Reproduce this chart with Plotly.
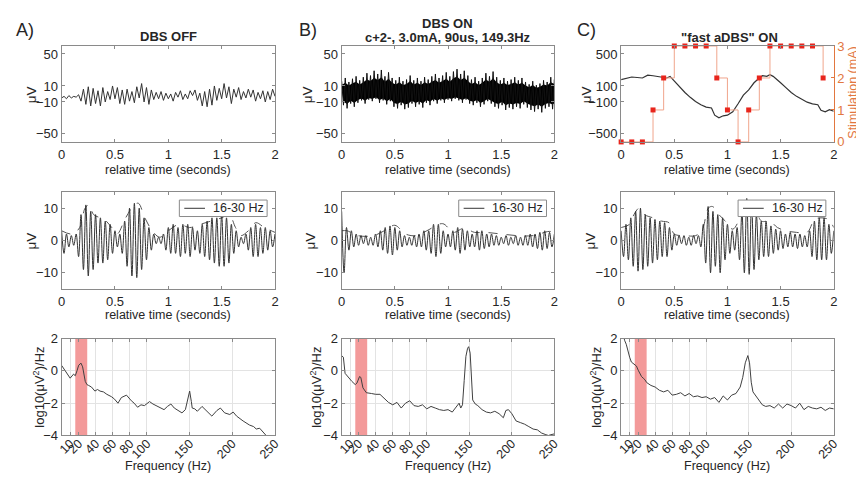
import numpy as np
import plotly.graph_objects as go

# ---------------- data ----------------
# Top row: raw signals (microvolts)
rawA = [-5, -3, -6, -2, -5, -3, -4, -1,
        -9, 6, -13, 9, -15, 7, -12, 4, -15, 8, -10, 3, -7,
        10, -6, 8, -12, 5, -13, 6, -9, 3, -11, 9, -5, 13,
        -10, 8, -13, 5, -7, 2, -6,
        3, -8, 1, -6, 0, -9, 2, -4, 4, -7, 0, -6, 4, -2, 5,
        -8, 1, -15, 3, -16, 6, -14, 10,
        -8, 7, -6, 13, -5, 9, -12, 6, -4, 8, -7, 3, -5, 6,
        -4, 5, -9, 2, -6, 4, -10, 3, -7, 6, -3]

rawB_upper = [16, 20, 15, 19, 22, 17, 21, 26, 23, 29, 25, 30, 22, 27, 20, 17, 21, 16, 18, 23,
              17, 20, 16, 21, 18, 22, 25, 20, 23, 27, 22, 28, 31, 25, 29, 23, 18, 21, 16, 20,
              26, 22, 28, 21, 17, 20, 16, 18, 21, 17, 20, 15, 12, 16, 11, 13, 17, 15, 21, 18]
rawB_lower = [-14, -18, -12, -16, -11, -8, -12, -7, -9, -6, -11, -8, -13, -9, -16, -18, -14, -19, -17, -12,
              -16, -13, -17, -11, -14, -9, -12, -8, -11, -7, -9, -6, -8, -11, -7, -12, -14, -11, -16, -13,
              -9, -12, -16, -18, -14, -20, -17, -19, -16, -18, -13, -17, -20, -22, -19, -23, -18, -16, -19, -14]

rawC_t = [0, 0.1, 0.2, 0.25, 0.3, 0.35, 0.4, 0.43, 0.46, 0.5, 0.55, 0.6, 0.65, 0.7, 0.75, 0.8, 0.85,
          0.88, 0.92, 0.96, 1.0, 1.05, 1.1, 1.15, 1.2, 1.25, 1.3, 1.33, 1.37, 1.4, 1.43, 1.47, 1.5,
          1.55, 1.6, 1.65, 1.7, 1.75, 1.8, 1.85, 1.88, 1.92, 1.96, 2.0]
rawC = [180, 212, 200, 236, 228, 220, 212, 200, 220, 160, 91, 18, -42, -95, -135, -164, -176,
        -265, -297, -273, -265, -224, -123, -14, 50, 140, 200, 228, 220, 240, 220, 180, 140,
        79, 18, -30, -71, -103, -123, -135, -204, -224, -196, -216]

stim_t = [0, 0.1, 0.2, 0.3, 0.4, 0.5, 0.6, 0.7, 0.8, 0.9, 1.0, 1.1, 1.2, 1.3, 1.4, 1.5, 1.6, 1.7, 1.8, 1.9]
stim_mA = [0, 0, 0, 1, 2, 3, 3, 3, 3, 2, 1, 0, 1, 2, 3, 3, 3, 3, 3, 2]

# Middle row: 16-30 Hz filtered signals (successive extrema, microvolts)
filtA = [3, -4, 2, -2, 1.5, -1.5, 2,
         -5, 8, -9, 11,
         -11, 9, -9, 8, -7, 7, -7, 6, -6, 5,
         -4, 3, -2, 2,
         -4, 6, -8, 10, -11, 11.5, -11.5, 10, -9, 7, -6, 4,
         -3, 2, -1, 1, -1, 2,
         -3, 4, -4, 5, -4, 4, -5, 5, -4, 5, -5, 4, -3, 3,
         -4, 5, -5, 6, -6, 7, -7, 7, -8, 8, -8, 7, -7, 5, -4, 3,
         -2, 1, -1, 2, -3,
         4, -5, 5, -5, 4, -4, 4, -3, 3, -2, 2]
filtB = [9, -10, 4, -3, 3, -2, 2,
         -1.5, 1.5, -1, 1.5, -1.5, 1, -1.5, 2,
         -2, 3, -3, 4, -4, 4.5, -4.5, 4, -3, 3,
         -2, 1.5, -1.5, 1, -1.5, 1.5, -2, 2, -2, 3,
         -3, 3, -4, 5, -5, 5, -4, 3, -2, 2,
         -2, 3, -3, 4, -4, 3.5, -3, 3,
         -2, 2, -2, 3, -3, 3, -2.5, 2, -2, 2,
         -1.5, 1.5, -1.5, 1, -1, 1.5, -1.5, 1, -1, 1.5, -1.5, 1, -1.5, 1.5, -1.5, 2,
         -2, 2, -2.5, 2.5, -3, 3, -2.5, 2.5, -2, 2]
filtC = [3, -5, 5, -6, 7, -8, 9,
         -9.5, 10, -9, 8, -8, 7, -7, 6.5,
         -6, 6, -5, 5.5, -5, 4, -3, 2,
         -1.5, 1.5, -1, 1.5, -1.5, 1, -1.5, 1.5, -1, 1.5, -2,
         5, -7, 10.5, -10, 9, -8, 8, -10, 7, -6, 5,
         -4, 3, -3, 4, -6, 9,
         -10, 13, -10.5, 12, -9, 8,
         -6, 6, -5, 6, -5, 4.5, -4, 3.5,
         -3, 3, -2.5, 2, -2, 2.5, -2, 2, -2.5, 2, -2, 1.5, -2, 3,
         -5, 6, -6, 7, -6, 7, -6, 5, -4, 3]

envA_t = [0, 0.1, 0.17, 0.22, 0.26, 0.3, 0.4, 0.47, 0.52, 0.6, 0.68, 0.72, 0.78, 0.85, 0.92, 1.0,
          1.1, 1.2, 1.3, 1.4, 1.5, 1.57, 1.63, 1.68, 1.75, 1.82, 1.9, 2.0]
envA = [3, 2, 4, 10, 11, 8, 6.5, 4, 2, 7, 11, 11.5, 7, 3, 1, 3, 5, 4, 5, 6, 7, 8, 4, 1.5, 3, 5.5, 4, 2.5]
envB_t = [0, 0.05, 0.15, 0.3, 0.4, 0.5, 0.6, 0.7, 0.8, 0.95, 1.05, 1.15, 1.25, 1.35, 1.5, 1.65, 1.8, 1.95, 2.0]
envB = [3, 3, 1.5, 1.5, 3, 4.7, 2, 1.5, 3, 5.2, 2.5, 3.8, 2.5, 2.5, 2, 1.5, 1.5, 2.8, 2.5]
envC_t = [0, 0.08, 0.12, 0.17, 0.22, 0.3, 0.38, 0.45, 0.5, 0.6, 0.7, 0.76, 0.82, 0.86, 0.92, 0.98,
          1.05, 1.12, 1.2, 1.25, 1.32, 1.4, 1.47, 1.55, 1.65, 1.75, 1.82, 1.88, 1.95, 2.0]
envC = [4, 5, 8, 10, 8, 7, 6, 5.5, 2, 1.5, 1.5, 3, 10, 10.5, 8, 6, 3.5, 7, 12, 11, 6, 6, 4, 3, 2.5, 2.5, 6.5, 7, 6.5, 4]

# Bottom row: PSD, log10(uV^2)/Hz
psdA_f = [0, 3, 6.5, 10, 14, 16, 18, 20, 22.7, 24.6, 27.7, 29.7, 31.6, 35, 39, 42, 45, 49, 53, 58.5,
          62, 66, 70, 76, 81.7, 85, 89, 93, 97, 103, 107, 112, 116, 120, 124, 128, 132, 135.6, 141, 145,
          147, 150, 152, 153, 156, 159, 164.5, 170, 176, 182, 186, 191, 197, 201, 205, 212.6, 220, 225,
          228, 232, 235.7, 239.6]
psdA = [0.34, 0.1, -0.15, -0.45, -0.2, -0.3, 0.0, 0.35, 0.48, 0.25, -0.65, -0.85, -0.9, -1.0, -1.25,
        -1.15, -1.25, -1.3, -1.45, -1.6, -1.75, -2.0, -1.65, -1.5, -1.85, -2.0, -2.25, -2.1, -2.15, -1.9,
        -2.05, -2.2, -2.3, -2.4, -2.2, -2.05, -2.3, -2.4, -2.6, -2.4, -1.9, -1.25, -1.9, -2.3, -2.35,
        -2.5, -2.2, -2.5, -2.8, -2.45, -2.3, -2.6, -2.7, -2.55, -2.8, -3.1, -3.35, -3.45, -3.6, -3.55,
        -3.8, -4.0]
psdB_f = [0, 2, 4, 7, 12, 16, 18, 21, 22.5, 25, 29, 35, 40, 45, 50, 55, 60, 65, 70, 75, 80, 85, 90, 95,
          100, 105, 110, 115, 120, 125, 130, 135, 138, 140, 142, 144, 146, 148, 149.3, 151, 152.5, 154,
          157, 160, 165, 170, 175, 180, 185, 190, 193, 196, 200, 205, 210, 215, 220, 225, 230, 235, 240,
          243, 246, 250]
psdB = [0.94, 0.85, -0.15, -0.35, -0.65, -0.85, -0.75, -0.35, -0.4, -1.05, -1.35, -1.4, -1.45, -1.45,
        -1.7, -1.95, -2.1, -1.95, -2.3, -2.0, -1.85, -2.15, -2.2, -2.1, -2.35, -2.2, -2.3, -2.4, -2.45,
        -2.4, -2.55, -2.2, -2.0, -2.3, -2.1, -0.6, 0.9, 1.4, 1.5, 1.1, -0.2, -1.8, -2.05, -2.15, -2.4,
        -2.55, -2.6, -2.5, -2.65, -2.9, -2.45, -2.4, -2.65, -3.1, -3.2, -3.3, -3.45, -3.6, -3.65, -3.85,
        -3.95, -4.0, -3.95, -3.9]
psdC_f = [3, 4, 6, 8, 10, 12, 15, 18, 20, 22, 24, 26, 28, 30, 35, 40, 45, 50, 55, 60, 65, 70, 75, 80,
          85, 90, 95, 100, 105, 110, 115, 120, 125, 130, 135, 140, 143, 146, 148, 149, 151, 153, 155,
          158, 162, 166, 170, 175, 180, 185, 190, 195, 200, 205, 210, 215, 220, 225, 230, 235, 240, 245, 250]
psdC = [2.2, 1.9, 1.65, 1.15, 0.85, 0.55, 0.4, 0.3, 0.05, -0.15, -0.35, -0.45, -0.55, -0.72, -0.9,
        -1.0, -1.2, -1.3, -1.2, -1.5, -1.45, -1.35, -1.55, -1.4, -1.6, -1.55, -1.65, -1.6, -1.75, -1.65,
        -1.95, -1.55, -1.8, -1.5, -1.4, -1.0, -0.4, 0.5, 0.9, 0.95, 0.5, -0.7, -1.3, -1.5, -1.8, -2.1,
        -2.2, -2.15, -2.3, -2.05, -2.3, -2.05, -2.15, -2.3, -2.0, -2.4, -2.2, -2.3, -2.35, -2.25, -2.45,
        -2.3, -2.35]

beta_band = [16, 30]
freq_ticks = [10, 20, 40, 60, 80, 100, 150, 200, 250]
time_ticks = [0, 0.5, 1, 1.5, 2]

panel_titles = ["<b>DBS OFF</b>", "<b>DBS ON</b>", "<b>c+2-, 3.0mA, 90us, 149.3Hz</b>", '<b>"fast aDBS" ON</b>']
panel_letters = ["A)", "B)", "C)"]

# ---------------- layout helpers ----------------
W, H = 864, 482
cols = [(49.3, 265.7), (333.3, 549.0), (616.7, 832.3)]
rows = [(32, 131), (182.7, 282.7), (334, 434)]
FONT = "Liberation Sans, Arial, Helvetica, sans-serif"
TXT = "#262626"
BOX = "#8a8a8a"
ORANGE = "#e2773f"
TRACE = "#333333"
TICK = 13


def xdom(c):
    return [cols[c][0] / W, cols[c][1] / W]


def ydom(r):
    return [1 - rows[r][1] / H, 1 - rows[r][0] / H]


def ax(k):
    return "" if k == 0 else str(k + 1)


fig = go.Figure()

# ---- top row ----
tA = np.linspace(0, 2, len(rawA))
fig.add_trace(go.Scatter(x=tA, y=rawA, mode="lines", line=dict(color=TRACE, width=1),
                         xaxis="x", yaxis="y", showlegend=False))

tB = np.linspace(0, 2, len(rawB_upper))
dtB = tB[1] - tB[0]
zx, zy = [], []
for i in range(len(tB)):
    zx += [tB[i], tB[i] + dtB / 2]
    zy += [rawB_upper[i], rawB_lower[i]]
# solid core of the dense DBS-ON trace
fig.add_trace(go.Scatter(x=list(tB) + list(tB[::-1] + dtB / 2),
                         y=[u * 0.7 for u in rawB_upper] + [l * 0.7 for l in rawB_lower[::-1]],
                         fill="toself", fillcolor="black", mode="none",
                         xaxis="x2", yaxis="y2", showlegend=False))
fig.add_trace(go.Scatter(x=zx, y=zy, mode="lines", line=dict(color="#111111", width=1),
                         xaxis="x2", yaxis="y2", showlegend=False))

fig.add_trace(go.Scatter(x=rawC_t, y=rawC, mode="lines", line=dict(color=TRACE, width=1.2),
                         xaxis="x3", yaxis="y3", showlegend=False))
fig.add_trace(go.Scatter(x=stim_t, y=stim_mA, mode="lines+markers", line=dict(color="#f0a58c", width=1, shape="hv"),
                         marker=dict(symbol="square", size=5, color="#e8251c"),
                         xaxis="x3", yaxis="y10", showlegend=False, cliponaxis=False))

# ---- middle row ----
for c, (sig, et, ev) in enumerate([(filtA, envA_t, envA), (filtB, envB_t, envB), (filtC, envC_t, envC)]):
    k = 3 + c
    t = np.linspace(0, 2, len(sig))
    fig.add_trace(go.Scatter(x=et, y=ev, mode="lines", line=dict(color="#555555", width=1, dash="dash", shape="spline"),
                             xaxis="x" + ax(k), yaxis="y" + ax(k), showlegend=False))
    fig.add_trace(go.Scatter(x=t, y=sig, mode="lines", line=dict(color=TRACE, width=1, shape="spline", smoothing=1),
                             xaxis="x" + ax(k), yaxis="y" + ax(k), showlegend=False))

# ---- bottom row ----
for c, (f, p) in enumerate([(psdA_f, psdA), (psdB_f, psdB), (psdC_f, psdC)]):
    k = 6 + c
    fig.add_trace(go.Scatter(x=[beta_band[0], beta_band[1], beta_band[1], beta_band[0], beta_band[0]],
                             y=[-4, -4, 2, 2, -4], fill="toself", fillcolor="#f39a9a", mode="none",
                             xaxis="x" + ax(k), yaxis="y" + ax(k), showlegend=False))
    fig.add_trace(go.Scatter(x=f, y=p, mode="lines", line=dict(color="#404040", width=1),
                             xaxis="x" + ax(k), yaxis="y" + ax(k), showlegend=False))

layout = dict(width=W, height=H, margin=dict(l=0, r=0, t=0, b=0), paper_bgcolor="white",
              plot_bgcolor="white", font=dict(family=FONT, size=12, color=TXT), showlegend=False)

for k in range(9):
    r, c = divmod(k, 3)
    xa = dict(domain=xdom(c), anchor="y" + ax(k), showline=True, linecolor=BOX, linewidth=1,
              mirror="ticks", ticks="inside", ticklen=3, tickcolor=BOX, zeroline=False,
              tickfont=dict(size=TICK, color=TXT))
    ya = dict(domain=ydom(r), anchor="x" + ax(k), showline=True, linecolor=BOX, linewidth=1,
              mirror="ticks", ticks="inside", ticklen=3, tickcolor=BOX, zeroline=False,
              tickfont=dict(size=TICK, color=TXT))
    if r < 2:
        xa.update(range=[0, 2], tickvals=time_ticks, ticktext=["0", "0.5", "1", "1.5", "2"], showgrid=False)
    if r == 0:
        if c < 2:
            ya.update(range=[-60, 60], tickvals=[-50, -10, 10, 50], showgrid=False)
        else:
            ya.update(range=[-600, 600], tickvals=[-500, -100, 100, 500], showgrid=False, mirror=False)
    elif r == 1:
        ya.update(range=[-15, 15], tickvals=[-10, 0, 10], showgrid=False)
    else:
        xa.update(range=[0, 250], tickvals=freq_ticks, ticktext=[str(v) for v in freq_ticks],
                  tickangle=-45, showgrid=True, gridcolor="#e3e3e3", gridwidth=1,
                  ticklabelstandoff=-5, tickfont=dict(size=12.5, color=TXT))
        ya.update(range=[-4, 2], tickvals=[-4, -2, 0, 2], showgrid=True, gridcolor="#e3e3e3", gridwidth=1)
    layout["xaxis" + ax(k)] = xa
    layout["yaxis" + ax(k)] = ya

layout["yaxis10"] = dict(overlaying="y3", side="right", anchor="x3", range=[0, 3], tickvals=[0, 1, 2, 3],
                         showline=True, linecolor=ORANGE, linewidth=1, ticks="inside", ticklen=3,
                         tickcolor=ORANGE, tickfont=dict(size=TICK, color=ORANGE), showgrid=False, zeroline=False)

annotations = []


def ann(text, x, y, size=12, angle=0, color=TXT, xanchor="center"):
    annotations.append(dict(text=text, x=x / W, y=1 - y / H, xref="paper", yref="paper", showarrow=False,
                            font=dict(size=size, color=color, family=FONT), textangle=angle,
                            xanchor=xanchor, yanchor="middle"))


for c in range(3):
    cx = (cols[c][0] + cols[c][1]) / 2
    ann("relative time (seconds)", cx, 160, size=12.5)
    ann("relative time (seconds)", cx, 310, size=12.5)
    ann("Frequency (Hz)", cx, 465, size=12.5)

ann(panel_titles[0], 157.5, 22, size=13)
ann(panel_titles[1], 441, 9, size=13)
ann(panel_titles[2], 441, 23, size=13)
ann(panel_titles[3], 727, 23, size=13)

ann(panel_letters[0], 12, 15, size=18)
ann(panel_letters[1], 299, 15, size=18)
ann(panel_letters[2], 582, 15, size=18)

for x in (19, 299, 582):
    ann("μV", x, 82, size=13.5, angle=-90)
for x in (19, 302, 586):
    ann("μV", x, 233, size=13.5, angle=-90)
for x in (26, 307, 591):
    ann("log10(μV<sup>2</sup>)/Hz", x, 384, size=13, angle=-90)
ann("Stimulation (mA)", 851, 80, size=12.5, angle=-90, color=ORANGE)

shapes = []
for c in range(3):
    right = cols[c][1] - 8
    left = right - 89
    top, bot = 191, 208
    shapes.append(dict(type="rect", xref="paper", yref="paper", x0=left / W, x1=right / W,
                       y0=1 - bot / H, y1=1 - top / H, line=dict(color=BOX, width=1), fillcolor="white"))
    shapes.append(dict(type="line", xref="paper", yref="paper", x0=(left + 5) / W, x1=(left + 26) / W,
                       y0=1 - 199.5 / H, y1=1 - 199.5 / H, line=dict(color=TRACE, width=1)))
    annotations.append(dict(text="16-30 Hz", x=(left + 32) / W, y=1 - 199.5 / H, xref="paper", yref="paper",
                            showarrow=False, xanchor="left", yanchor="middle",
                            font=dict(size=12.5, color=TXT, family=FONT)))

layout["annotations"] = annotations
layout["shapes"] = shapes
fig.update_layout(**layout)
fig.write_html("out.html")
